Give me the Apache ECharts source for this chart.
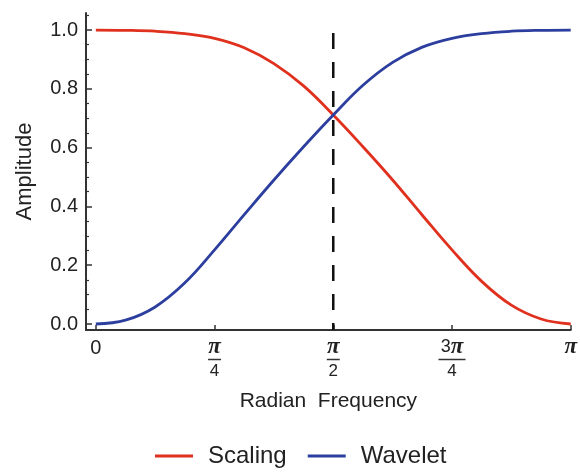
<!DOCTYPE html>
<html>
<head>
<meta charset="utf-8">
<script src="https://cdn.jsdelivr.net/npm/echarts@6/dist/echarts.min.js"></script>
<style>
    html, body { margin: 0; padding: 0; background: #fff; }
    #main { width: 580px; height: 475px; }
</style>
</head>
<body>
<div id="main"></div>
<script>
// sample points: k * pi/16
var steps = [0, 1, 2, 3, 4, 5, 6, 7, 8, 9, 10, 11, 12, 13, 14, 15, 16];
// values
var scaling = [1.0, 0.999, 0.996, 0.988, 0.972, 0.94, 0.886, 0.81, 0.711, 0.603, 0.49, 0.37, 0.252, 0.145, 0.064, 0.017, 0.0];
var wavelet = [0.0, 0.013, 0.058, 0.14, 0.252, 0.372, 0.49, 0.603, 0.711, 0.812, 0.89, 0.942, 0.972, 0.988, 0.996, 0.999, 1.0];
// x tick labels at 0, pi/4, pi/2, 3pi/4, pi
var xTicks = [0, 1, 2, 3, 4];
var xTickNames = ['0', 'π/4', 'π/2', '3π/4', 'π'];
var yTicks = [0, 0.2, 0.4, 0.6, 0.8, 1.0];
var yMinorTicks = [0.05, 0.1, 0.15, 0.25, 0.3, 0.35, 0.45, 0.5, 0.55, 0.65, 0.7, 0.75, 0.85, 0.9, 0.95, 1.05];
var cutoff = [0.99, -0.02];

var PI = Math.PI;
var xTickValues = xTicks.map(function(q) { return q * PI / 4; });

var richNames = {
    '0': '0',
    'π/4': '{n|π}\n{bar|}\n{d|4}',
    'π/2': '{n|π}\n{bar|}\n{d|2}',
    '3π/4': '{num|3}{n|π}\n{bar2|}\n{d|4}',
    'π': '{n|π}'
};

function pairs(vals) {
    return steps.map(function(k, i) { return [k * PI / 16, vals[i]]; });
}

var myChart = echarts.init(document.getElementById('main'));
var font = 'Liberation Sans, Arial, sans-serif';
var option = {
    backgroundColor: '#fff',
    animation: false,
    textStyle: { fontFamily: font, color: '#222' },
    grid: { left: 86, right: 3, top: 13, bottom: 145 },
    legend: {
        data: ['Scaling', 'Wavelet'],
        bottom: 2,
        left: 150,
        icon: 'rect',
        itemWidth: 38,
        itemHeight: 3,
        itemGap: 21,
        textStyle: { fontSize: 24, color: '#222', fontFamily: font, padding: [0, 0, 0, 10] }
    },
    xAxis: {
        type: 'value',
        min: -0.065,
        max: PI,
        name: 'Radian  Frequency',
        nameLocation: 'middle',
        nameGap: 61,
        nameTextStyle: { fontSize: 21, color: '#222', fontFamily: font },
        splitLine: { show: false },
        axisLine: { onZero: false, lineStyle: { color: '#333', width: 2 } },
        axisTick: { inside: true, length: 5, customValues: xTickValues, lineStyle: { color: '#333', width: 1.5 } },
        axisLabel: {
            customValues: xTickValues,
            margin: 8,
            color: '#222',
            fontSize: 20,
            formatter: function(v) {
                for (var i = 0; i < xTickValues.length; i++) {
                    if (Math.abs(v - xTickValues[i]) < 1e-6) return richNames[xTickNames[i]];
                }
                return '';
            },
            rich: {
                n: { fontFamily: 'Liberation Serif, serif', fontStyle: 'italic', fontWeight: 'bold', fontSize: 23, lineHeight: 19, color: '#222' },
                num: { fontFamily: font, fontSize: 18, lineHeight: 19, color: '#222' },
                bar: { width: 13, height: 1.5, lineHeight: 5, backgroundColor: '#333' },
                bar2: { width: 27, height: 1.5, lineHeight: 5, backgroundColor: '#333' },
                d: { fontFamily: font, fontSize: 17, lineHeight: 19, color: '#222' }
            }
        }
    },
    yAxis: [{
        type: 'value',
        position: 'left',
        min: -0.0204,
        max: 1.058,
        name: 'Amplitude',
        nameLocation: 'middle',
        nameGap: 50,
        nameTextStyle: { fontSize: 22, color: '#222', fontFamily: font },
        splitLine: { show: false },
        axisLine: { show: true, onZero: false, lineStyle: { color: '#333', width: 2 } },
        axisTick: { inside: true, length: 6, customValues: yTicks, lineStyle: { color: '#333', width: 1.5 } },
        axisLabel: {
            customValues: yTicks,
            margin: 8,
            color: '#222',
            fontSize: 20,
            formatter: function(v) { return v.toFixed(1); }
        }
    }, {
        // minor ticks
        type: 'value',
        position: 'left',
        min: -0.0204,
        max: 1.058,
        splitLine: { show: false },
        axisLine: { show: false, onZero: false },
        axisTick: { inside: true, length: 3, customValues: yMinorTicks, lineStyle: { color: '#333', width: 1.2 } },
        axisLabel: { show: false }
    }],
    series: [{
        name: 'Scaling',
        type: 'line',
        smooth: 0.4,
        symbol: 'none',
        color: '#e0301e',
        lineStyle: { width: 2.8, color: '#e0301e' },
        data: pairs(scaling)
    }, {
        name: 'Wavelet',
        type: 'line',
        smooth: 0.4,
        symbol: 'none',
        color: '#2c3e9e',
        lineStyle: { width: 2.8, color: '#2c3e9e' },
        data: pairs(wavelet)
    }, {
        name: 'cutoff',
        type: 'line',
        symbol: 'none',
        silent: true,
        lineStyle: { width: 2.5, color: '#111', type: [16, 13] },
        data: [[PI / 2, cutoff[0]], [PI / 2, cutoff[1]]]
    }]
};
myChart.setOption(option);
</script>
</body>
</html>
